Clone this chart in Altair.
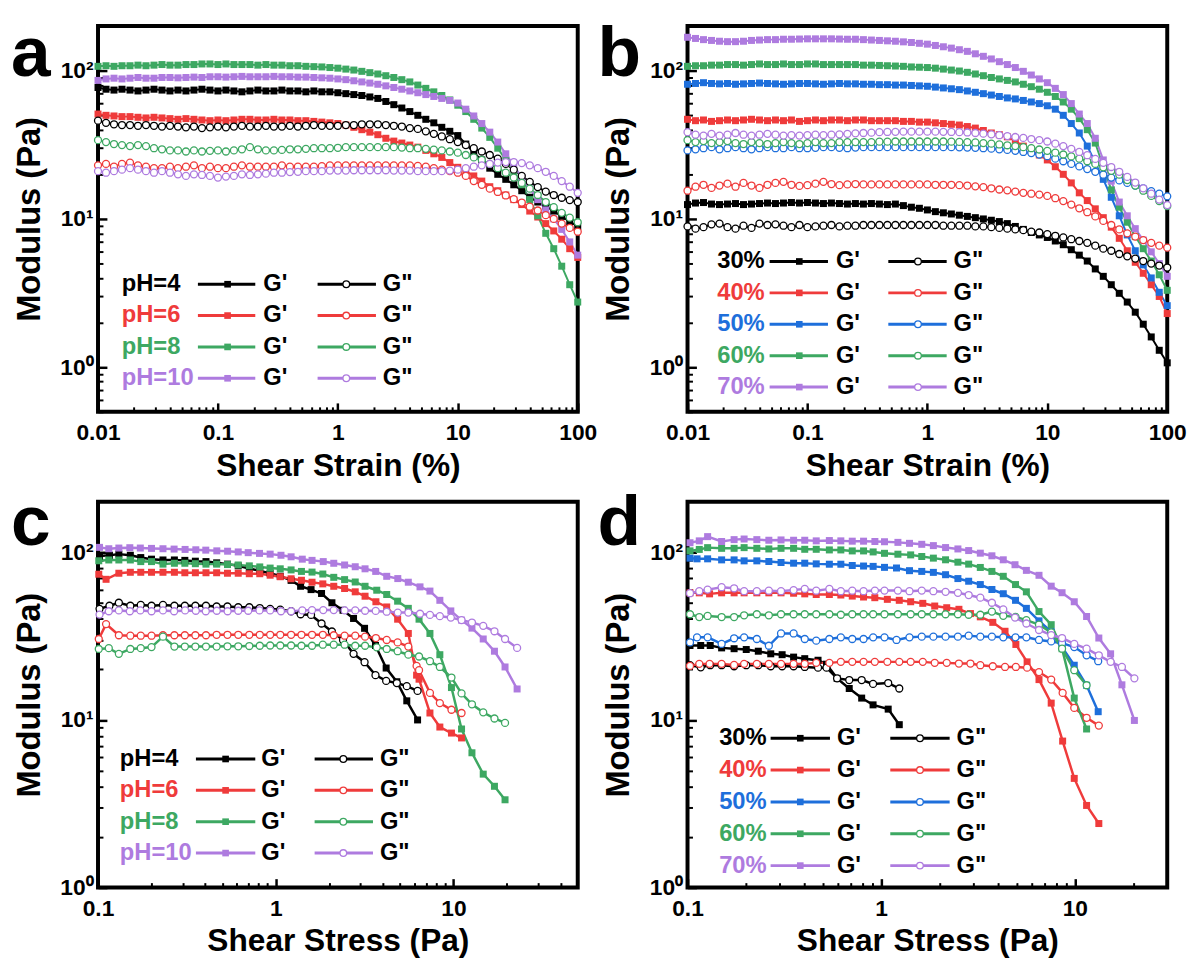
import altair as alt
import pandas as pd

FONT = "Liberation Sans"

# ---------------- colours / names ----------------
BLACK, RED, GREEN, BLUE, PURPLE = "#000000", "#EF3B3B", "#3DA862", "#1E6FDB", "#AE7BDF"
PH_NAMES = ["pH=4", "pH=6", "pH=8", "pH=10"]
PH_COLORS = [BLACK, RED, GREEN, PURPLE]
CONC_NAMES = ["30%", "40%", "50%", "60%", "70%"]
CONC_COLORS = [BLACK, RED, BLUE, GREEN, PURPLE]
Y_TICKS = [1, 10, 100]
Y_TICK_LABELS = ["10⁰", "10¹", "10²"]
X_TICKS_STRAIN = [0.01, 0.1, 1, 10, 100]
X_TICKS_STRESS = [0.1, 1, 10]

# ---------------- panel a / b : amplitude sweep (strain, %) ----------------
STRAIN = [0.01, 0.01166, 0.01359, 0.01585, 0.01848, 0.02154, 0.02512, 0.02929, 0.03415, 0.03981, 0.04642, 0.05412, 0.0631, 0.07356, 0.08577,
          0.1, 0.1166, 0.1359, 0.1585, 0.1848, 0.2154, 0.2512, 0.2929, 0.3415, 0.3981, 0.4642, 0.5412, 0.631, 0.7356, 0.8577,
          1.0, 1.166, 1.359, 1.585, 1.848, 2.154, 2.512, 2.929, 3.415, 3.981, 4.642, 5.412, 6.31, 7.356, 8.577,
          10.0, 11.66, 13.59, 15.85, 18.48, 21.54, 25.12, 29.29, 34.15, 39.81, 46.42, 54.12, 63.1, 73.56, 85.77, 100.0]

A_PH4_GP = [77, 75, 74, 75, 74, 73, 74, 75, 74, 73, 74, 73, 74, 75, 74, 73, 74, 73, 72, 73, 74, 73, 73, 74, 73, 73, 72, 73, 72, 72,
            71, 70, 69, 68, 66.5, 65, 62, 59, 56, 53, 50, 47, 44.5, 41.5, 39, 36.5, 32, 28, 25, 22, 20, 18.5, 17, 15.5, 14, 13, 12.2, 11.3, 10.4, 9.6, 8.9]
A_PH4_GPP = [46, 44.5, 43.5, 43, 43, 42.5, 43, 42.5, 42, 42.5, 42, 41.5, 42, 41, 41.5, 42, 41.5, 42, 42.5, 42, 42, 42.5, 42, 42, 42.5, 42, 42.5, 43, 42.5, 42.5,
             42.5, 43, 43, 43.5, 43.5, 43.5, 43, 42.5, 42, 41, 40.5, 39, 37.5, 36, 34.5, 33, 31.5, 30, 28.5, 27, 25.5, 23.5, 21.5, 19.5, 17.8, 16.4, 15.3, 14.5, 13.9, 13.4, 13]
A_PH6_GP = [51, 50, 49.5, 49, 49, 48.5, 48, 48.5, 48, 47.5, 47, 47.5, 47, 46.5, 46, 46.5, 46, 46.5, 47, 47, 46.5, 46.5, 47, 46.5, 46.5, 46, 46, 45.5, 45, 44.5,
            44, 43, 41.5, 40, 38.5, 37, 35, 33.5, 32.5, 31.5, 30.5, 29, 27.5, 26, 24, 22.3, 21, 19.5, 18, 16.5, 15.5, 14.5, 13.5, 12.5, 11.3, 10.3, 9.3, 8.3, 7.3, 6.3, 5.5]
A_PH6_GPP = [23, 23.5, 22.5, 23.5, 24, 23, 22.5, 22, 22, 22.5, 22, 22.5, 23, 22, 22.5, 22, 22, 22.5, 23, 22.5, 22.5, 22.5, 22.5, 23, 22.5, 22.5, 22.5, 22.5, 22.7, 23,
             23, 23, 23, 23, 23, 23, 23, 23, 23, 23, 22.8, 22.5, 22, 21.5, 21, 20.5, 19.5, 18, 17, 16, 15.2, 14.4, 13.6, 12.9, 12.1, 11.4, 10.6, 10, 9.3, 8.7, 8.2]
A_PH8_GP = [107, 108, 107, 108, 108, 109, 108, 109, 110, 109, 109, 110, 110, 111, 111, 110, 111, 110, 110, 110, 109, 110, 109, 109, 108, 108, 107, 106.5, 106, 105,
            104, 102.5, 101, 99, 97, 95, 92.5, 90, 87, 84, 80, 76, 72, 68, 63.5, 58.5, 53, 47, 41, 35.5, 30, 25, 21, 17, 13.5, 10.5, 8, 6.3, 4.8, 3.6, 2.75]
A_PH8_GPP = [34, 33, 32, 31.5, 31, 31.5, 31, 30, 29.5, 29, 29, 28.5, 29, 28.5, 28.8, 29, 28.5, 29, 29.5, 30.5, 29.5, 29, 29, 29.2, 29.5, 29.5, 29.7, 30, 30, 30,
             30.2, 30.5, 30.5, 30.5, 30.5, 30.5, 30.5, 30.5, 30.3, 30, 30, 29.7, 29.3, 29, 28.5, 28, 27, 26, 25, 23.5, 22, 20.5, 19, 17.5, 16, 14.5, 13, 12, 11, 10.2, 9.5]
A_PH10_GP = [86, 88, 89, 88, 89, 90, 89, 89, 90, 90, 89.5, 90, 90.5, 90, 91, 91, 90.5, 91, 91.5, 91, 91, 91, 91.5, 91, 91, 90.5, 90.5, 90, 89.5, 89,
             88, 87, 85.5, 84, 82.5, 81, 79, 77, 75, 73, 71, 69, 67, 65, 63, 60.5, 55, 49.5, 44, 38.5, 33, 27.5, 23, 19, 16, 13.5, 11.5, 10, 8.5, 7, 5.7]
A_PH10_GPP = [21, 20.5, 21, 21.5, 22, 21.5, 21, 20.5, 21, 20.5, 20, 19.5, 20, 19.8, 19.5, 19, 19.3, 19.5, 20, 19.8, 20, 20.2, 20.5, 20.5, 20.7, 20.8, 21, 21, 21, 21.2,
              21.2, 21.2, 21.3, 21.3, 21.3, 21.3, 21.3, 21.2, 21.2, 21.2, 21, 21, 21, 21, 21.2, 21.5, 22, 22.5, 23, 23.5, 24, 24.2, 24.2, 23.8, 23, 22, 20.8, 19.5, 18, 16.5, 15]

B_30_GP = [12.5, 12.8, 12.9, 12.6, 12.5, 12.6, 12.7, 12.5, 12.6, 12.7, 12.8, 12.7, 12.8, 12.9, 12.8, 12.9, 12.8, 12.7, 12.8, 12.7, 12.6, 12.7, 12.6, 12.7, 12.6, 12.5, 12.6, 12.3, 12, 11.8,
           11.5, 11.2, 11, 10.8, 10.6, 10.4, 10.2, 10, 9.8, 9.6, 9.3, 8.9, 8.5, 8.1, 7.8, 7.5, 7.1, 6.7, 6.2, 5.7, 5.2, 4.6, 4.1, 3.6, 3.15, 2.75, 2.35, 1.95, 1.6, 1.3, 1.07]
B_30_GPP = [8.9, 8.6, 8.8, 9.2, 9.3, 8.8, 8.6, 9, 8.7, 9.3, 9.1, 9.2, 9.0, 8.8, 9.1, 8.8, 8.9, 9.0, 9.1, 8.9, 9.0, 9.0, 9.1, 9.1, 9.1, 9.1, 9.1, 9.1, 9.1, 9.1,
            9.1, 9.1, 9.0, 9.0, 9.0, 9.0, 8.9, 8.9, 8.8, 8.7, 8.6, 8.5, 8.4, 8.2, 8.1, 7.9, 7.7, 7.5, 7.3, 7.1, 6.9, 6.6, 6.3, 6.1, 5.8, 5.6, 5.4, 5.2, 5.0, 4.85, 4.7]
B_40_GP = [47, 46, 46.5, 45.5, 46, 46.5, 46, 46.5, 47, 46.5, 46, 46.5, 46, 46.5, 45.5, 46, 46.5, 46, 46.5, 46.5, 46, 46.5, 46.5, 46, 46, 46, 46, 45.5, 45.5, 45,
           45, 44.5, 44, 43.5, 43, 42, 41, 39.5, 38, 37, 35.8, 33.5, 31, 29, 27, 25, 22.5, 20, 17.5, 15, 13.3, 11.7, 10.2, 8.8, 7.4, 6.1, 5.1, 4.3, 3.6, 3.0, 2.3]
B_40_GPP = [15.5, 16.5, 17, 16.2, 16.8, 17.3, 16.5, 17.5, 16.8, 16.2, 17, 17.5, 17.8, 17, 16.7, 16.9, 17.3, 17.8, 17.2, 16.9, 17.1, 17.2, 17.1, 17.1, 17.1, 17.1, 17.1, 17.1, 17.1, 17.1,
            17.1, 17, 17, 17, 16.9, 16.8, 16.6, 16.4, 16.1, 15.8, 15.6, 15.3, 15.0, 14.8, 14.6, 14.3, 13.8, 13.2, 12.5, 11.8, 11.1, 10.4, 9.7, 9.1, 8.5, 8.0, 7.6, 7.2, 6.9, 6.6, 6.4]
B_50_GP = [81, 82, 83, 82, 81.5, 82, 81, 81.5, 82, 82.5, 82, 81.5, 81, 81.5, 82, 82, 81.5, 81, 81.5, 82, 81.5, 81.5, 81, 81, 80.5, 80.5, 80, 80, 79.5, 79,
           78.5, 77.5, 76.5, 75.5, 74.5, 73, 71.5, 70, 68.5, 67, 65.5, 64.5, 63, 61.5, 60, 58, 55, 50, 44, 38, 31, 24, 18.5, 14, 10.5, 7.8, 6.1, 4.9, 4.0, 3.2, 2.6]
B_50_GPP = [29, 29.5, 30, 30.5, 29.5, 30, 30.5, 30, 29.5, 30, 30.5, 30, 30, 30.5, 30, 30, 30.2, 30.5, 30.5, 30.2, 30, 30.3, 30.5, 30.5, 30.5, 30.5, 30.5, 30.5, 30.5, 30.5,
            30.5, 30.5, 30.5, 30.5, 30.4, 30.3, 30.2, 30, 29.8, 29.5, 29.2, 28.8, 28.3, 27.8, 27.2, 26.5, 25.5, 24.5, 23.5, 22.6, 21.7, 20.8, 19.9, 19, 18.2, 17.5, 16.8, 16.1, 15.4, 14.8, 14.2]
B_60_GP = [107, 108, 108, 109, 109, 110, 110, 109, 110, 111, 110, 110, 111, 110, 110, 111, 111, 110, 110, 110, 110, 110, 109, 109, 108.5, 108, 107.5, 107, 106, 105.5,
           105, 104, 102.5, 101, 99.5, 97.5, 95, 92.5, 90, 88, 86, 84, 81, 78, 75, 71.5, 67, 61.5, 55, 47.5, 40, 32.5, 22.5, 15.7, 12, 9.5, 7.6, 6.3, 5.2, 4.2, 3.3]
B_60_GPP = [34, 33, 33.5, 32.5, 33, 33.5, 32.5, 32, 33, 32.5, 32, 32.5, 33, 32.5, 32, 32.5, 33, 32.5, 32.5, 33, 33, 33, 33, 33, 33.2, 33.2, 33.3, 33.3, 33.3, 33.3,
            33.3, 33.3, 33.3, 33.2, 33.1, 33, 32.8, 32.5, 32.2, 31.8, 31.4, 31, 30.5, 30, 29.4, 28.8, 28, 27.2, 26.4, 25.5, 24.5, 23.5, 22.3, 21.1, 19.9, 18.3, 16.8, 15.5, 14.3, 13.2, 12.2]
B_70_GP = [168, 165, 162, 160, 158, 157, 157, 158, 160, 161, 162, 162, 163, 163, 163.5, 164, 164, 164, 164, 163.5, 163, 163, 162, 161, 160, 159, 158, 156.5, 155, 153,
           151, 148, 145, 142, 138.5, 135, 130, 125, 120, 115, 110, 105, 99, 93.5, 88, 83, 76, 69, 60, 51, 44, 35, 25, 18, 13, 10.5, 8.6, 7.2, 6, 5, 4.1]
B_70_GPP = [38.5, 37, 36.5, 37.5, 36.5, 37, 38, 37, 36.5, 37, 37.5, 37, 36.5, 36.8, 36.5, 36.8, 37, 36.8, 37, 37.2, 37.5, 37.8, 38, 38.2, 38.5, 38.6, 38.7, 38.8, 38.8, 38.8,
            38.8, 38.8, 38.7, 38.6, 38.5, 38.3, 38, 37.6, 37.2, 36.7, 36.2, 35.7, 35.2, 34.6, 34, 33.3, 32.2, 31, 29.7, 28.3, 26.9, 25.4, 23.9, 22.4, 20.8, 19.2, 17.6, 16.1, 14.8, 13.5, 12.4]

# ---------------- panel c : stress sweep, pH series ----------------
C_PH4_X = [0.102, 0.116, 0.131, 0.152, 0.174, 0.200, 0.232, 0.269, 0.308, 0.353, 0.405, 0.465, 0.535, 0.615, 0.71, 0.813, 0.93, 1.06, 1.22, 1.38,
           1.58, 1.81, 2.07, 2.39, 2.74, 3.16, 3.64, 4.18, 4.80, 5.46, 6.28]
C_PH4_GP = [95, 96, 97.5, 96, 93, 91, 90, 90, 89.5, 88.5, 88, 86.5, 85, 83, 80, 77.5, 75, 72, 68, 62.7, 59.9, 56.8, 50, 45.1, 40.3, 35.2, 27.8, 20.4, 16.9, 13, 10]
C_PH4_GPP = [46, 48, 50, 48, 48.5, 48, 48.5, 48, 48, 48, 48, 47.5, 47.5, 47, 47, 46.5, 46, 45.5, 44.5, 42.7, 42.3, 37.6, 33.7, 30, 24.8, 22.1, 18.5, 17.1, 16.6, 15.9, 14.9]
C_PH6_X = [0.101, 0.111, 0.131, 0.152, 0.174, 0.200, 0.232, 0.269, 0.308, 0.353, 0.405, 0.465, 0.535, 0.615, 0.71, 0.813, 0.93, 1.06, 1.22, 1.395,
           1.60, 1.84, 2.12, 2.44, 2.80, 3.18, 3.66, 4.21, 4.85, 5.57, 6.20, 6.40, 7.37, 8.38, 9.74, 11.1]
C_PH6_GP = [74, 69, 75, 76, 76, 76, 76, 76, 75.5, 75.5, 75.5, 75.5, 75, 75, 74.5, 74.5, 73, 71.5, 69.5, 68.1, 66.3, 64.8, 62.7, 60.8, 58.1, 54.7, 50.7, 47.2, 39.9, 32.8,
            18.5, 17.5, 11.0, 9.07, 8.35, 7.81]
C_PH6_GPP = [30.4, 37.3, 32, 31.8, 31.8, 31.8, 32, 32, 32, 32, 32, 32.2, 32.2, 32.2, 32.2, 32.2, 32.2, 32.2, 32.2, 32.2, 32.2, 32.2, 32, 31.8, 31.8, 31.4, 30.8, 30, 29, 27.4,
             21, 19.8, 14.5, 12.6, 11.5, 11.0]
C_PH8_X = [0.101, 0.115, 0.131, 0.152, 0.174, 0.200, 0.232, 0.269, 0.308, 0.353, 0.405, 0.465, 0.535, 0.615, 0.71, 0.813, 0.93, 1.06, 1.22, 1.395,
           1.60, 1.84, 2.12, 2.44, 2.80, 3.18, 3.70, 4.21, 4.85, 5.57, 6.40, 7.37, 8.38, 9.74, 11.1, 12.7, 14.7, 17.0, 19.5]
C_PH8_GP = [89, 90, 90, 90, 88, 88, 85, 86, 86, 85.5, 85, 85, 84.5, 84, 83, 81.8, 80.5, 79.7, 78.5, 76.9, 76.2, 74.2, 70.9, 68.7, 66.5, 62.7, 59.4, 56, 51.1, 46.3,
            39.9, 32.8, 24.5, 15.6, 8.83, 6.37, 4.75, 4.02, 3.34]
C_PH8_GPP = [26.5, 26.8, 24.8, 26.5, 26.8, 27.2, 31.4, 27.4, 27.4, 27.4, 27.4, 27.4, 27.5, 27.5, 27.6, 27.7, 27.8, 27.8, 27.8, 27.7, 27.7, 28.1, 28.1, 28.1, 27.7, 27.7, 27.1, 26.5, 25.7, 24.5,
             23.9, 22.4, 20.7, 17.9, 14.4, 12.4, 11.1, 10.2, 9.6]
C_PH10_X = [0.102, 0.115, 0.131, 0.151, 0.173, 0.200, 0.232, 0.268, 0.309, 0.355, 0.404, 0.466, 0.536, 0.615, 0.70, 0.81, 0.93, 1.07, 1.22, 1.41,
            1.60, 1.85, 2.12, 2.44, 2.80, 3.18, 3.65, 4.21, 4.86, 5.57, 6.48, 7.37, 8.38, 9.66, 11.1, 12.7, 14.7, 17.0, 19.5, 22.8]
C_PH10_GP = [107, 105, 106, 106.5, 106, 105.5, 105, 104.5, 104, 103.5, 103, 102, 101.5, 100.5, 99.5, 98.5, 97.5, 96, 94, 91, 89.5, 88, 86, 84, 82, 79.7, 76.9, 71.9, 69.7, 66.3,
             62.2, 58.7, 51.7, 44.7, 39.4, 35.3, 30.4, 25.7, 20.7, 15.3]
C_PH10_GPP = [42.5, 44.5, 45, 44.5, 45, 44.5, 45, 44.5, 45, 44.8, 44.5, 44.8, 44.5, 44.8, 44.8, 45, 45, 44.5, 44.5, 45, 45.2, 45.2, 45.2, 45, 45, 44.8, 44.7, 44.2, 43.7, 43.7,
              43, 42.3, 41.6, 40.8, 39.4, 38.1, 36.4, 33.8, 30.4, 26.9]

# ---------------- panel d : stress sweep, concentration series ----------------
D_30_X = [0.103, 0.117, 0.131, 0.150, 0.174, 0.201, 0.232, 0.269, 0.308, 0.353, 0.403, 0.472, 0.522, 0.592, 0.684, 0.793, 0.908, 1.087, 1.24]
D_30_GP = [27.8, 27.8, 27.8, 26.9, 26.6, 26.3, 25.7, 24.8, 24.5, 23.7, 23.2, 22.7, 21.5, 17.7, 15.4, 13.5, 12.3, 11.6, 9.37]
D_30_GPP = [21.2, 20.6, 21.2, 21.2, 20.9, 21.2, 21.2, 20.9, 20.9, 20.9, 20.7, 20.5, 20.5, 17.7, 17.3, 17.3, 16.4, 16.6, 15.4]
D_40_X = [0.103, 0.115, 0.130, 0.150, 0.174, 0.196, 0.228, 0.263, 0.304, 0.353, 0.403, 0.462, 0.540, 0.619, 0.709, 0.811, 0.927, 1.076, 1.24, 1.42,
          1.64, 1.89, 2.18, 2.52, 2.89, 3.25, 3.77, 4.36, 4.96, 5.67, 6.53, 7.55, 8.65, 9.93, 11.5, 13.3]
D_40_GP = [57.3, 57.3, 56.5, 57.3, 57.3, 57.3, 57.3, 57.3, 57.3, 57.0, 56.5, 56.0, 56.0, 55.6, 54.8, 54.1, 53.6, 52.4, 51.7, 50.7,
           49.6, 47.8, 46.7, 45.7, 43.1, 41.2, 38.2, 33.8, 28.2, 22.2, 17.4, 12.6, 7.48, 4.48, 3.09, 2.41]
D_40_GPP = [21, 21.6, 21.6, 21.6, 21.3, 21.6, 21.6, 21.6, 21.6, 21.6, 21.6, 21.9, 21.9, 22.2, 22.2, 22.2, 22.2, 22.2, 22.2, 22.2,
            22.2, 21.9, 21.9, 21.7, 21.7, 21.2, 20.9, 20.7, 20.7, 20.5, 19.3, 17.4, 14.5, 11.8, 10.3, 9.25]
D_50_X = [0.103, 0.112, 0.127, 0.150, 0.174, 0.196, 0.228, 0.263, 0.304, 0.353, 0.403, 0.462, 0.540, 0.619, 0.709, 0.811, 0.909, 1.04, 1.20, 1.40,
          1.62, 1.86, 2.15, 2.49, 2.83, 3.25, 3.73, 4.27, 4.94, 5.62, 6.53, 7.55, 8.59, 9.93, 11.5, 13.2]
D_50_GP = [92.3, 91.4, 91.4, 90.1, 90.1, 88.9, 88.9, 88.1, 86.9, 86.1, 86.1, 85.3, 84.9, 84.9, 83.4, 82.8, 82.4, 81.3, 80.6, 77.7,
           76.9, 75.9, 73.5, 69.7, 67.2, 64.2, 60.0, 56.6, 51.7, 46.3, 39.0, 33.6, 27.2, 21.2, 16.1, 11.2]
D_50_GPP = [29.0, 31.1, 31.1, 28.4, 30.7, 31.1, 30.4, 27.7, 32.8, 32.8, 30.4, 29.7, 30.4, 31.1, 30.4, 30.4, 31.1, 31.1, 30.0, 31.1,
            31.4, 31.4, 31.4, 31.4, 31.8, 31.4, 31.4, 31.1, 31.1, 31.1, 30.0, 29.4, 28.7, 27.2, 24.3, 22.4]
D_60_X = [0.103, 0.115, 0.127, 0.150, 0.174, 0.196, 0.228, 0.263, 0.304, 0.353, 0.403, 0.462, 0.540, 0.619, 0.709, 0.811, 0.909, 1.04, 1.22, 1.42,
          1.62, 1.86, 2.15, 2.49, 2.83, 3.25, 3.73, 4.27, 4.94, 5.62, 6.53, 7.55, 8.59, 9.93, 11.5]
D_60_GP = [102, 104, 106.6, 105.6, 105.6, 106.6, 105.6, 104.7, 105.6, 105.6, 104.2, 104.2, 103.3, 103.3, 101.9, 101.9, 100.5, 98.6, 97.4, 96.5,
           94.4, 92.3, 90.2, 87.3, 85.0, 81.2, 76.9, 71.9, 64.2, 58.1, 44.3, 37.0, 26.6, 13.5, 8.83]
D_60_GPP = [42.7, 41.1, 41.7, 41.1, 41.1, 42.1, 42.7, 42.1, 42.7, 42.7, 42.7, 42.7, 42.7, 42.4, 42.7, 42.7, 42.7, 42.7, 42.7, 42.7,
            42.7, 42.7, 42.7, 42.7, 42.4, 42.4, 44.3, 41.8, 41.2, 39.4, 37.0, 33.3, 26.6, 19.8, 16.1]
D_70_X = [0.103, 0.115, 0.127, 0.150, 0.174, 0.196, 0.228, 0.263, 0.304, 0.353, 0.403, 0.462, 0.540, 0.619, 0.709, 0.811, 0.928, 1.04, 1.22, 1.40,
          1.62, 1.86, 2.15, 2.49, 2.83, 3.25, 3.73, 4.27, 4.91, 5.62, 6.53, 7.55, 8.59, 9.93, 11.5, 13.3, 15.3, 17.5, 20.3]
D_70_GP = [114, 117, 124, 116, 119, 120, 119, 118, 118.5, 118, 118, 117, 117.5, 117, 116.5, 116.5, 116, 115.6, 114.6, 113.1,
           111.6, 109.6, 106.7, 104.7, 102.4, 98.8, 95.3, 90.2, 84.3, 78.0, 72.9, 62.8, 57.4, 50.7, 41.4, 30.8, 24.8, 16.2, 9.93]
D_70_GPP = [57, 58.6, 59.9, 61.9, 61, 58.6, 58.6, 59, 58.6, 59.5, 60.5, 59, 60.5, 58.6, 59, 58.6, 59.1, 59.1, 59.1, 58.6,
            59.1, 58.6, 58.1, 57.3, 55.6, 53.6, 50.0, 45.7, 40.8, 37.6, 34.4, 32.1, 30.8, 28.4, 26.6, 24.3, 22.2, 20.7, 17.7]


# ---------------- helpers ----------------
def long_df(series):
    rows = []
    for name, xs, gp, gpp in series:
        if not (len(xs) == len(gp) == len(gpp)):
            raise ValueError(f"length mismatch in {name}: {len(xs)} {len(gp)} {len(gpp)}")
        for i, (x, a, b) in enumerate(zip(xs, gp, gpp)):
            rows.append({"s": name, "k": "Gp", "x": x, "y": a, "i": i})
            rows.append({"s": name, "k": "Gpp", "x": x, "y": b, "i": i})
    return pd.DataFrame(rows)


W, H = 485, 390
ALL_NAMES = PH_NAMES + CONC_NAMES
ALL_COLORS = PH_COLORS + CONC_COLORS
CSCALE = alt.Scale(domain=ALL_NAMES, range=ALL_COLORS)
LETTER_SIZE = 72


def decade_minor(lo, hi):
    out = []
    e = lo
    while e < hi:
        for m in range(2, 10):
            v = m * e
            if v < hi:
                out.append(v)
        e *= 10
    return out


def panel(df, names, xdom, ydom, xmajor, xtitle, letter, letter_pos, leg, lw, msize):
    cscale = CSCALE
    xs = alt.Scale(type="log", domain=xdom, nice=False)
    ys = alt.Scale(type="log", domain=ydom, nice=False)
    xminor = decade_minor(xmajor[0] / 10, xdom[1])
    yminor = [v for v in decade_minor(0.1, ydom[1]) if v >= ydom[0]]
    ylab_expr = " : ".join(
        [f"datum.value == {v} ? '{t}'" for v, t in zip(Y_TICKS[:-1], Y_TICK_LABELS[:-1])]
    ) + f" : '{Y_TICK_LABELS[-1]}'"

    ax_x_main = alt.Axis(orient="bottom", values=xmajor, format="~g", labelFlush=False, labelOverlap=False,
                         ticks=False, tickSize=0, domain=False, grid=False,
                         labelFont=FONT, labelFontSize=23, labelFontWeight="bold", labelColor="black", labelPadding=10,
                         title=xtitle, titleFont=FONT, titleFontSize=32, titleFontWeight="bold", titleColor="black",
                         titlePadding=6)
    ax_y_main = alt.Axis(orient="left", values=Y_TICKS, labelExpr=ylab_expr, labelOverlap=False,
                         ticks=False, tickSize=0, domain=False, grid=False,
                         labelFont=FONT, labelFontSize=23, labelFontWeight="bold", labelColor="black", labelPadding=5,
                         title="Modulus (Pa)", titleFont=FONT, titleFontSize=33, titleFontWeight="bold",
                         titleColor="black", titlePadding=14)
    ax_x_major = alt.Axis(orient="top", offset=-H, values=xmajor, labels=False, domain=False, grid=False,
                          ticks=True, tickSize=9, tickWidth=2.5, tickColor="black", title=None)
    ax_x_minor = alt.Axis(orient="top", offset=-H, values=xminor, labels=False, domain=False, grid=False,
                          ticks=True, tickSize=5, tickWidth=2, tickColor="black", title=None)
    ax_y_major = alt.Axis(orient="right", offset=-W, values=Y_TICKS, labels=False, domain=False, grid=False,
                          ticks=True, tickSize=9, tickWidth=2.5, tickColor="black", title=None)
    ax_y_minor = alt.Axis(orient="right", offset=-W, values=yminor, labels=False, domain=False, grid=False,
                          ticks=True, tickSize=5, tickWidth=2, tickColor="black", title=None)

    base = alt.Chart(df)
    col = alt.Color("s:N", scale=cscale, legend=None)
    lines = base.mark_line(strokeWidth=lw).encode(
        x=alt.X("x:Q", scale=xs, axis=ax_x_main),
        y=alt.Y("y:Q", scale=ys, axis=ax_y_main),
        color=col, detail="k:N", order="i:Q")
    squares = base.transform_filter("datum.k == 'Gp'").mark_point(
        shape="square", filled=True, size=msize, opacity=1).encode(
        x=alt.X("x:Q", scale=xs, axis=ax_x_major),
        y=alt.Y("y:Q", scale=ys, axis=ax_y_major),
        color=col)
    circles = base.transform_filter("datum.k == 'Gpp'").mark_point(
        shape="circle", filled=True, fill="white", strokeWidth=1.3, size=msize, opacity=1).encode(
        x=alt.X("x:Q", scale=xs, axis=ax_x_minor),
        y=alt.Y("y:Q", scale=ys, axis=ax_y_minor),
        stroke=alt.Stroke("s:N", scale=cscale, legend=None))

    # in-plot legend
    leg_df = pd.DataFrame({"s": names, "r": list(range(len(names)))})
    lb = alt.Chart(leg_df).transform_calculate(ly=f"{leg['y0']} + datum.r * {leg['dy']}")
    yl = alt.Y("ly:Q", scale=None, axis=None)
    txt = dict(baseline="middle", align="left", font=FONT, fontSize=24, fontWeight="bold")
    l_name = lb.mark_text(**txt).encode(x=alt.value(leg["lab"]), y=yl, text="s:N", color=col)
    l_r1 = lb.mark_rule(strokeWidth=3).encode(x=alt.value(leg["l1"][0]), x2=alt.value(leg["l1"][1]), y=yl, color=col)
    l_p1 = lb.mark_point(shape="square", filled=True, size=45, opacity=1).encode(x=alt.value(leg["m1"]), y=yl, color=col)
    l_t1 = lb.mark_text(color="black", text="G'", **txt).encode(x=alt.value(leg["t1"]), y=yl)
    l_r2 = lb.mark_rule(strokeWidth=3).encode(x=alt.value(leg["l2"][0]), x2=alt.value(leg["l2"][1]), y=yl, color=col)
    l_p2 = lb.mark_point(shape="circle", filled=True, fill="white", strokeWidth=1.3, size=45, opacity=1).encode(
        x=alt.value(leg["m2"]), y=yl, stroke=alt.Stroke("s:N", scale=cscale, legend=None))
    l_t2 = lb.mark_text(color="black", text='G"', **txt).encode(x=alt.value(leg["t2"]), y=yl)

    let = alt.Chart(pd.DataFrame({"t": [letter]})).mark_text(
        align="left", baseline="alphabetic", font=FONT, fontSize=LETTER_SIZE, fontWeight="bold", color="black").encode(
        text="t:N", x=alt.value(letter_pos[0]), y=alt.value(letter_pos[1]))

    return alt.layer(lines, squares, circles, l_name, l_r1, l_p1, l_t1, l_r2, l_p2, l_t2, let).resolve_axis(
        x="independent", y="independent").properties(width=W, height=H)


df_a = long_df([(n, STRAIN, gp, gpp) for n, gp, gpp in zip(
    PH_NAMES, [A_PH4_GP, A_PH6_GP, A_PH8_GP, A_PH10_GP], [A_PH4_GPP, A_PH6_GPP, A_PH8_GPP, A_PH10_GPP])])
df_b = long_df([(n, STRAIN, gp, gpp) for n, gp, gpp in zip(
    CONC_NAMES, [B_30_GP, B_40_GP, B_50_GP, B_60_GP, B_70_GP], [B_30_GPP, B_40_GPP, B_50_GPP, B_60_GPP, B_70_GPP])])
df_c = long_df([(n, xs, gp, gpp) for n, xs, gp, gpp in zip(
    PH_NAMES, [C_PH4_X, C_PH6_X, C_PH8_X, C_PH10_X], [C_PH4_GP, C_PH6_GP, C_PH8_GP, C_PH10_GP],
    [C_PH4_GPP, C_PH6_GPP, C_PH8_GPP, C_PH10_GPP])])
df_d = long_df([(n, xs, gp, gpp) for n, xs, gp, gpp in zip(
    CONC_NAMES, [D_30_X, D_40_X, D_50_X, D_60_X, D_70_X], [D_30_GP, D_40_GP, D_50_GP, D_60_GP, D_70_GP],
    [D_30_GPP, D_40_GPP, D_50_GPP, D_60_GPP, D_70_GPP])])

LEG_A = dict(y0=261, dy=31.7, lab=24, l1=(101, 159), m1=131, t1=167, l2=(222, 281), m2=251, t2=288)
LEG_B = dict(y0=238, dy=31.75, lab=30, l1=(83, 142), m1=113, t1=150, l2=(203, 262), m2=233, t2=269)
LEG_C = dict(y0=260, dy=31.7, lab=22, l1=(99, 159), m1=129, t1=165, l2=(219, 278), m2=248, t2=285)
LEG_D = dict(y0=239, dy=32.2, lab=32, l1=(84, 144), m1=114, t1=151, l2=(205, 265), m2=235, t2=272)

pa = panel(df_a, PH_NAMES, [0.01, 100], [0.5, 200], X_TICKS_STRAIN, "Shear Strain (%)", "a", (-88, 50), LEG_A, 2, 50)
pb = panel(df_b, CONC_NAMES, [0.01, 100], [0.5, 200], X_TICKS_STRAIN, "Shear Strain (%)", "b", (-91, 50), LEG_B, 2, 50)
pc = panel(df_c, PH_NAMES, [0.1, 50], [1, 200], X_TICKS_STRESS, "Shear Stress (Pa)", "c", (-88, 44), LEG_C, 2.5, 50)
pdd = panel(df_d, CONC_NAMES, [0.1, 30], [1, 200], X_TICKS_STRESS, "Shear Stress (Pa)", "d", (-91, 44), LEG_D, 2.5, 50)

chart = alt.concat(pa, pb, pc, pdd, columns=2, spacing={"row": 91, "column": 111}, bounds="flush").properties(
    padding={"left": 1, "top": 3, "right": 0, "bottom": 0}
).configure_view(stroke="black", strokeWidth=4).configure_axis(grid=False)

chart.save("out.html", embed_options={"renderer": "svg", "actions": False})
